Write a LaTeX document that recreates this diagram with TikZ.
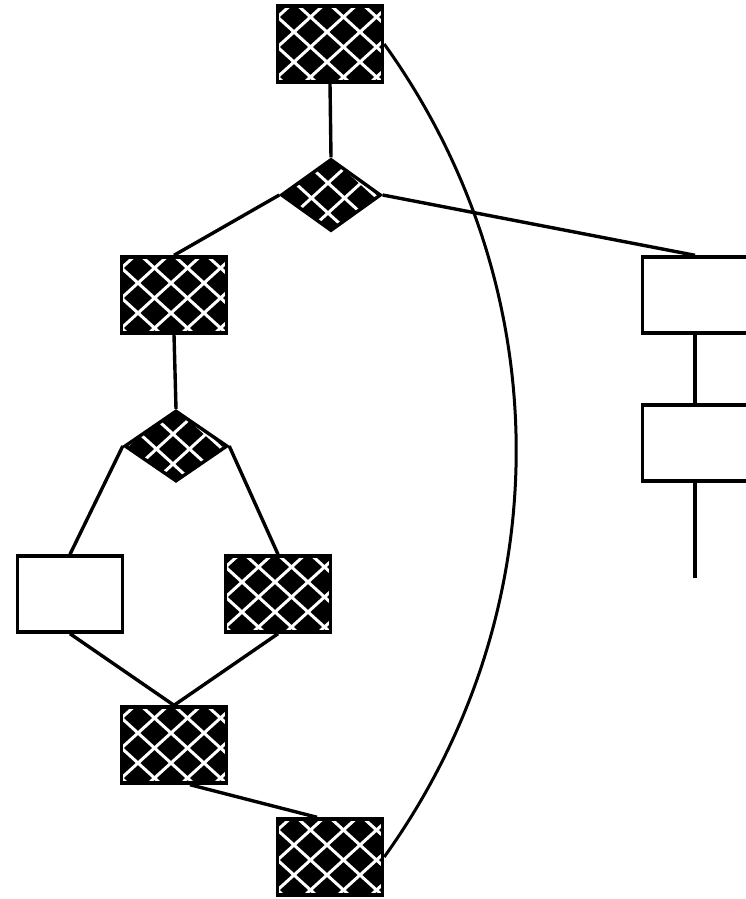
\documentclass[tikz,border=0pt]{standalone}
\usetikzlibrary{shapes.geometric,calc}
\begin{document}
\begin{tikzpicture}[x=1pt,y=-1pt,
  hatch/.style={fill=black, path picture={
     \begin{scope}[shift={(path picture bounding box.north west)}]
       \foreach \k in {-5,...,8} {
         \draw[white,line width=3pt] ({30+33*\k-99},{18-90}) -- ({30+33*\k+99},{18+90});
         \draw[white,line width=3pt] ({30+33*\k-99},{18+90}) -- ({30+33*\k+99},{18-90});
       }
     \end{scope}}},
  box/.style={rectangle, draw=black, line width=3.4pt, minimum width=105pt,
              minimum height=76pt, inner sep=0pt},
  dia/.style={diamond, draw=black, line width=3.4pt, inner sep=0pt},
  link/.style={line width=3.4pt},
  arcline/.style={line width=3pt}]
  \useasboundingbox (0,0) rectangle (745,899);

  % left-hand chart
  \node[box,hatch] (A) at (330,44) {};
  \node[dia,hatch,minimum width=100pt,minimum height=72pt] (D1) at (331,195) {};
  \node[box,hatch] (B) at (174,295) {};
  \node[dia,hatch,minimum width=103pt,minimum height=71pt] (D2) at (176,446) {};
  \node[box,fill=white] (C) at (70,594) {};
  \node[box,hatch] (E) at (278,594) {};
  \node[box,hatch] (F) at (174,745) {};
  \node[box,hatch] (G) at (330,857) {};

  % right-hand chain
  \node[box] (R1) at (695,295) {};
  \node[box] (R2) at (695,443) {};
  \coordinate (R3) at (695,578);

  \draw[link] (A.south) -- (D1.north);
  \draw[link] (D1.west) -- (B.north);
  \draw[link] (D1.east) -- (R1.north);
  \draw[link] (B.south) -- (D2.north);
  \draw[link] (D2.west) -- (C.north);
  \draw[link] (D2.east) -- (E.north);
  \draw[link] (C.south) -- (F.north);
  \draw[link] (E.south) -- (F.north);
  \draw[link] ([xshift=16pt]F.south) -- ([xshift=-13pt]G.north);
  \draw[link] (R1.south) -- (R2.north);
  \draw[link] (R2.south) -- (R3);

  % long return curve
  \draw[arcline] (A.east) .. controls +(176,245) and +(176,-245) .. (G.east);
\end{tikzpicture}
\end{document}
